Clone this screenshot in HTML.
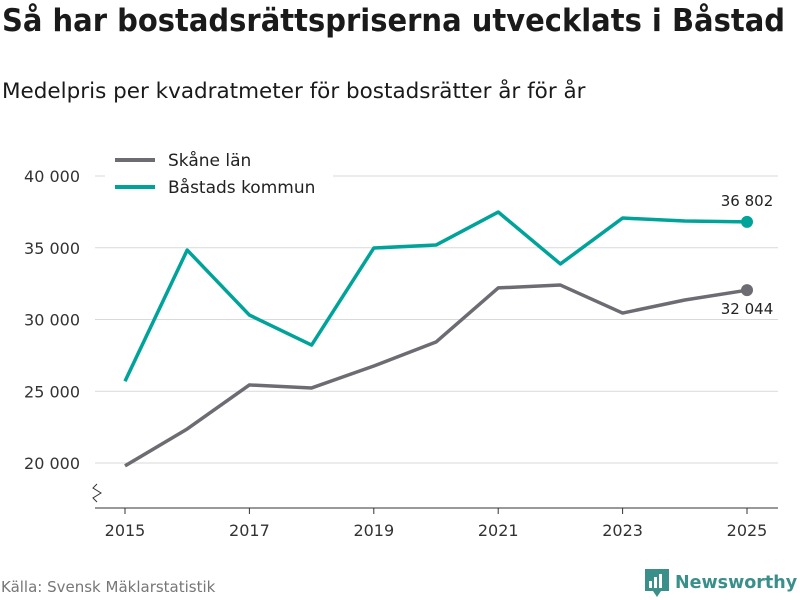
<!DOCTYPE html>
<html><head><meta charset="utf-8"><style>
body{margin:0;width:800px;height:600px;background:#fff;font-family:"DejaVu Sans","Liberation Sans",sans-serif;overflow:hidden;position:relative;color:#1a1a1a}
#title{position:absolute;left:2px;top:3px;font-size:31px;font-weight:bold;white-space:nowrap;transform:scaleX(0.935);transform-origin:0 0}
#sub{position:absolute;left:2px;top:79px;font-size:21.5px;white-space:nowrap}
#src{position:absolute;left:1px;top:578px;font-size:15px;color:#777}
#logo{position:absolute;left:645px;top:569px;font-size:17.5px;font-weight:bold;color:#3a8f8a;display:flex;align-items:center;gap:6px}
</style></head><body>
<div id="title">Så har bostadsrättspriserna utvecklats i Båstad</div>
<div id="sub">Medelpris per kvadratmeter för bostadsrätter år för år</div>
<svg id="chart" width="800" height="600" style="position:absolute;left:0;top:0"></svg>
<div id="src">Källa: Svensk Mäklarstatistik</div>
<div id="logo"><svg width="24" height="28" viewBox="0 0 24 28"><path d="M0 0H24V22H16L12 28L8 22H0Z" fill="#3a8f8a"/><rect x="4" y="12" width="3" height="7" fill="#fff"/><rect x="9" y="8" width="3" height="11" fill="#fff"/><rect x="14" y="5" width="3" height="14" fill="#fff"/></svg><span>Newsworthy</span></div>
<script>
const years=[2015,2016,2017,2018,2019,2020,2021,2022,2023,2024,2025];
const skane=[19800,22370,25440,25230,26760,28430,32200,32400,30450,31360,32044];
const bastad=[25700,34840,30310,28220,34980,35190,37490,33870,37070,36860,36802];
const yTicks=[20000,25000,30000,35000,40000];
const xTicks=[2015,2017,2019,2021,2023,2025];
const NS="http://www.w3.org/2000/svg";
const svg=document.getElementById('chart');
const x=v=>125+(v-2015)*62.2;
const y=v=>463-(v-20000)*287/20000;
const fmt=v=>String(Math.round(v)).replace(/\B(?=(\d{3})+$)/g,' ');
function mk(t,a,p){const e=document.createElementNS(NS,t);for(const k in a)e.setAttribute(k,a[k]);(p||svg).appendChild(e);return e;}
yTicks.forEach(v=>{
 const l=mk('line',{x1:95,x2:778,y1:y(v),y2:y(v),stroke:'#d9d9d9','stroke-width':1});
 
 
 const t=mk('text',{x:80,y:y(v)+6,'text-anchor':'end','font-size':16,fill:'#333'});
 t.textContent=fmt(v);
 
 
});
const ax=mk('line',{x1:95,x2:778,y1:508,y2:508,stroke:'#333','stroke-width':1});


const zz=mk('path',{d:'M97 484 L93 488 L101 493 L93 498 L97 502',fill:'none',stroke:'#333','stroke-width':1});


xTicks.forEach(v=>{
 const tk=mk('line',{x1:x(v),x2:x(v),y1:508,y2:514,stroke:'#333'});
 
 
 const t=mk('text',{x:x(v),y:536,'text-anchor':'middle','font-size':16,fill:'#333'});
 t.textContent=v;
 
 
});
function series(vals,col,name){
 const p=mk('polyline',{points:vals.map((v,i)=>x(years[i])+','+y(v)).join(' '),fill:'none',stroke:col,'stroke-width':3.5,'stroke-linejoin':'round'});
 
 
 const n=vals.length-1;
 const c=mk('circle',{cx:x(years[n]),cy:y(vals[n]),r:6,fill:col});
 
 
}
series(skane,'#6e6c73','skane');
series(bastad,'#00a39a','bastad');
const n=years.length-1;
const l1=mk('text',{x:x(years[n]),y:y(bastad[n])-16,'text-anchor':'middle','font-size':15,fill:'#222'});
l1.textContent=fmt(bastad[n]);


const l2=mk('text',{x:x(years[n]),y:y(skane[n])+24,'text-anchor':'middle','font-size':15,fill:'#222'});
l2.textContent=fmt(skane[n]);


const bg=mk('rect',{x:105,y:145,width:228,height:58,fill:'#fff'});


[['Skåne län','#6e6c73'],['Båstads kommun','#00a39a']].forEach((d,i)=>{
 const yy=160+i*27;
 const ln=mk('line',{x1:115,x2:155,y1:yy,y2:yy,stroke:d[1],'stroke-width':4});
 
 
 const t=mk('text',{x:168,y:yy+6,'font-size':17,fill:'#222'});
 t.textContent=d[0];
 
 
});
</script>
</body></html>
